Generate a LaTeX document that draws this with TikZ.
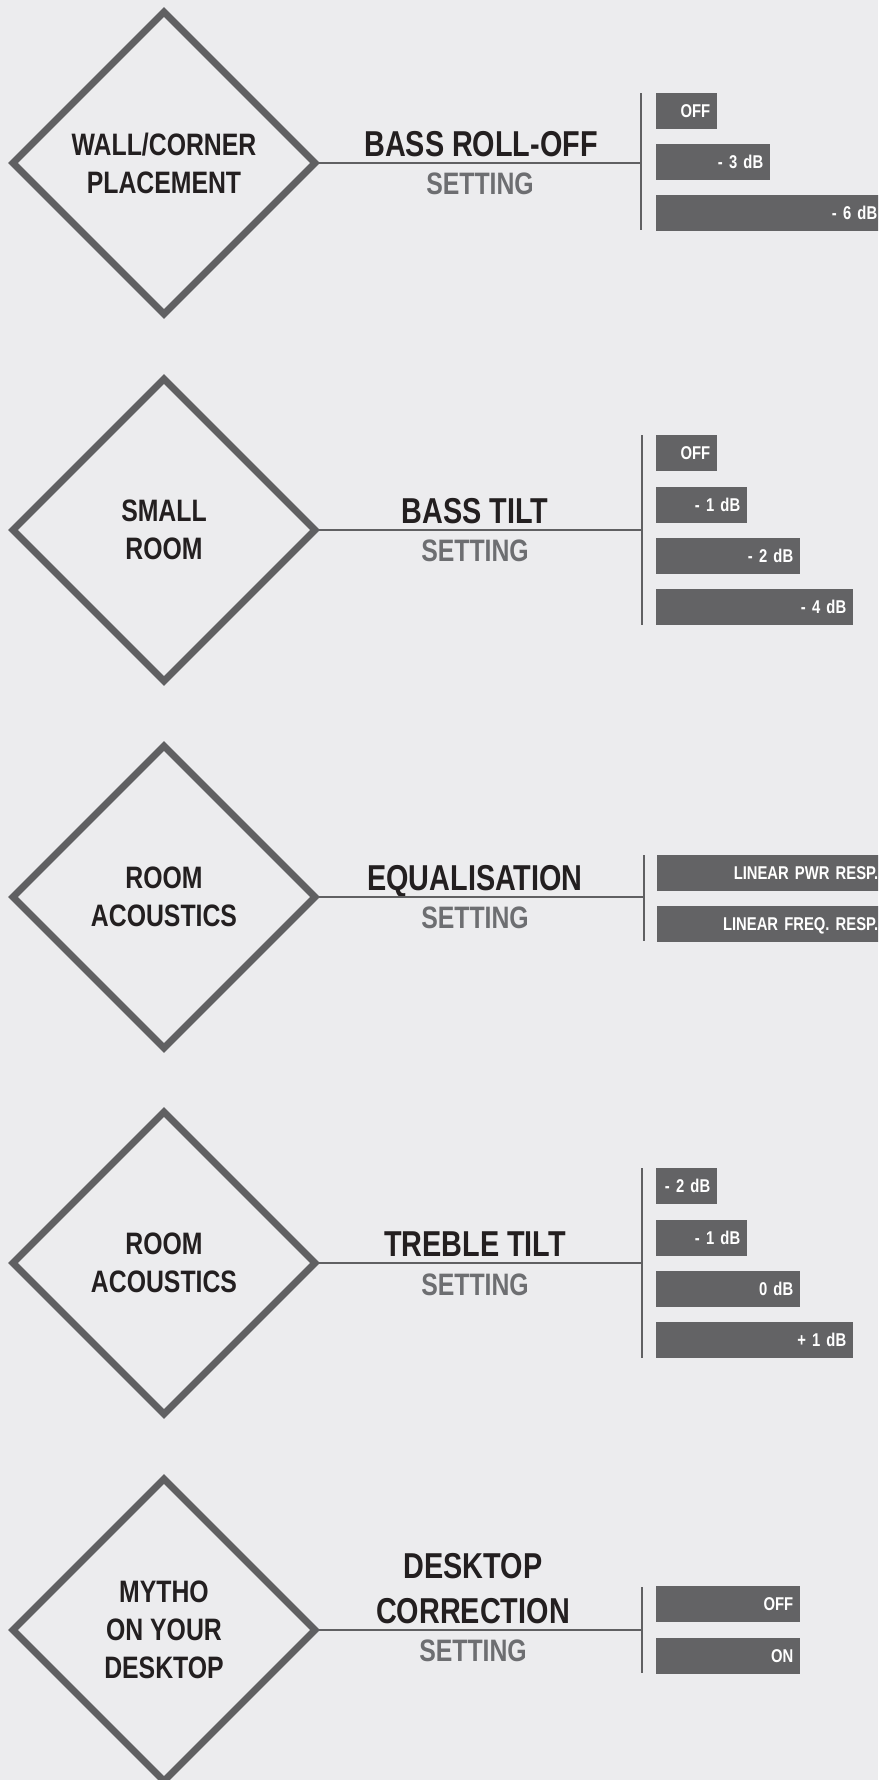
\documentclass[tikz,border=0pt]{standalone}
\usepackage{fontspec}
\setmainfont[FakeStretch=0.8]{Liberation Sans}
\usetikzlibrary{shapes.geometric}

\definecolor{bggray}{RGB}{236,236,238}
\definecolor{boxgray}{RGB}{99,99,101}
\definecolor{linegray}{RGB}{96,96,98}
\definecolor{titleblack}{RGB}{35,31,32}
\definecolor{subgray}{RGB}{109,110,113}

\begin{document}
\begin{tikzpicture}[x=1pt, y=-1pt,
    roomdiamond/.style={diamond, draw=linegray, line width=7pt, miter limit=10,
        minimum width=302pt, minimum height=302pt, inner sep=0pt, outer sep=0pt,
        align=center, text=titleblack, font=\bfseries\fontsize{31}{38}\selectfont},
    settitle/.style={anchor=base, inner sep=0pt, align=center, text=titleblack,
        font=\bfseries\fontsize{36}{45}\selectfont},
    setsub/.style={anchor=base, inner sep=0pt, text=subgray,
        font=\bfseries\fontsize{31}{38}\selectfont},
    optbox/.style={anchor=west, fill=boxgray, text=white, inner xsep=7pt, inner ysep=0pt,
        minimum height=36pt, text height=13pt, text depth=0pt,
        text width=#1-14pt, align=right, font=\bfseries\fontsize{18.5}{21}\selectfont},
    link/.style={draw=linegray, line width=2.5pt}]

        \path[use as bounding box, fill=bggray] (0,0) rectangle (878,1780);
        \clip (0,0) rectangle (878,1780);

        % Wall/corner placement -> bass roll-off
        \node[roomdiamond] (d1) at (164,163) {WALL/CORNER\\PLACEMENT};
        \node[settitle] (t1) at (481,156) {BASS ROLL-OFF};
        \node[setsub] (s1) at (480,194) {SETTING};
        \coordinate (j1) at (641,163);
        \coordinate (u1) at (641,93);
        \coordinate (l1) at (641,230);
        \draw[link] (d1.east) -- (j1);
        \draw[link] (u1) -- (l1);
        \node[optbox=61pt] (o11) at (656,111) {OFF};
        \node[optbox=114pt] (o12) at (656,162) {- 3 dB};
        \node[optbox=228pt] (o13) at (656,213) {- 6 dB};

        % Small room -> bass tilt
        \node[roomdiamond] (d2) at (164,530) {SMALL\\ROOM};
        \node[settitle] (t2) at (475,523) {BASS TILT};
        \node[setsub] (s2) at (475,561) {SETTING};
        \coordinate (j2) at (642,530);
        \coordinate (u2) at (642,435);
        \coordinate (l2) at (642,625);
        \draw[link] (d2.east) -- (j2);
        \draw[link] (u2) -- (l2);
        \node[optbox=61pt] (o21) at (656,453) {OFF};
        \node[optbox=91pt] (o22) at (656,505) {- 1 dB};
        \node[optbox=144pt] (o23) at (656,556) {- 2 dB};
        \node[optbox=197pt] (o24) at (656,607) {- 4 dB};

        % Room acoustics -> equalisation
        \node[roomdiamond] (d3) at (164,897) {ROOM\\ACOUSTICS};
        \node[settitle] (t3) at (475,890) {EQUALISATION};
        \node[setsub] (s3) at (475,928) {SETTING};
        \coordinate (j3) at (644,897);
        \coordinate (u3) at (644,855);
        \coordinate (l3) at (644,941);
        \draw[link] (d3.east) -- (j3);
        \draw[link] (u3) -- (l3);
        \node[optbox=228pt] (o31) at (657,873) {LINEAR PWR RESP.};
        \node[optbox=228pt] (o32) at (657,924) {LINEAR FREQ. RESP.};

        % Room acoustics -> treble tilt
        \node[roomdiamond] (d4) at (164,1263) {ROOM\\ACOUSTICS};
        \node[settitle] (t4) at (475,1256) {TREBLE TILT};
        \node[setsub] (s4) at (475,1295) {SETTING};
        \coordinate (j4) at (642,1263);
        \coordinate (u4) at (642,1168);
        \coordinate (l4) at (642,1358);
        \draw[link] (d4.east) -- (j4);
        \draw[link] (u4) -- (l4);
        \node[optbox=61pt] (o41) at (656,1186) {\mbox{- 2 dB}};
        \node[optbox=91pt] (o42) at (656,1238) {- 1 dB};
        \node[optbox=144pt] (o43) at (656,1289) {0 dB};
        \node[optbox=197pt] (o44) at (656,1340) {+ 1 dB};

        % Desktop -> desktop correction
        \node[roomdiamond] (d5) at (164,1630) {MYTHO\\ON YOUR\\DESKTOP};
        \node[settitle] (t5) at (473,1623) {DESKTOP\\CORRECTION};
        \node[setsub] (s5) at (473,1661) {SETTING};
        \coordinate (j5) at (642,1630);
        \coordinate (u5) at (642,1587);
        \coordinate (l5) at (642,1673);
        \draw[link] (d5.east) -- (j5);
        \draw[link] (u5) -- (l5);
        \node[optbox=144pt] (o51) at (656,1604) {OFF};
        \node[optbox=144pt] (o52) at (656,1656) {ON};
    \end{tikzpicture}
\end{document}
